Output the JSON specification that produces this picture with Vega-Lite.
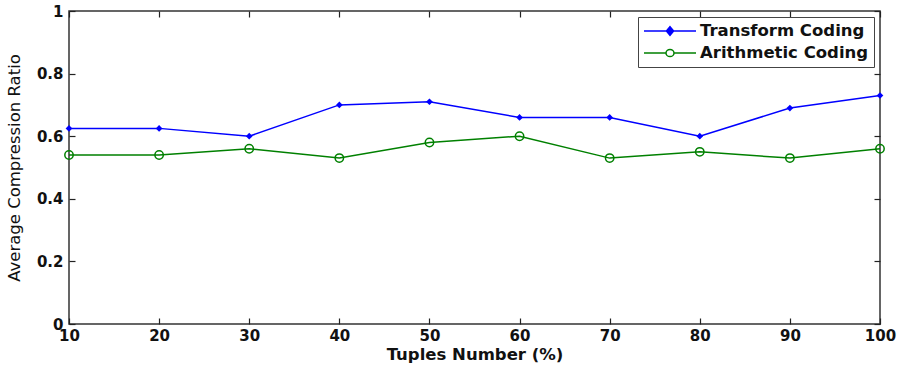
{
  "$schema": "https://vega.github.io/schema/vega-lite/v6.json",
  "width": 811,
  "height": 313,
  "autosize": {"type": "none"},
  "padding": {"left": 69, "top": 11, "right": 22, "bottom": 42},
  "background": "white",
  "data": {
    "values": [
      {"tuples": 10, "series": "Transform Coding", "ratio": 0.625},
      {"tuples": 20, "series": "Transform Coding", "ratio": 0.625},
      {"tuples": 30, "series": "Transform Coding", "ratio": 0.60},
      {"tuples": 40, "series": "Transform Coding", "ratio": 0.70},
      {"tuples": 50, "series": "Transform Coding", "ratio": 0.71},
      {"tuples": 60, "series": "Transform Coding", "ratio": 0.66},
      {"tuples": 70, "series": "Transform Coding", "ratio": 0.66},
      {"tuples": 80, "series": "Transform Coding", "ratio": 0.60},
      {"tuples": 90, "series": "Transform Coding", "ratio": 0.69},
      {"tuples": 100, "series": "Transform Coding", "ratio": 0.73},
      {"tuples": 10, "series": "Arithmetic Coding", "ratio": 0.54},
      {"tuples": 20, "series": "Arithmetic Coding", "ratio": 0.54},
      {"tuples": 30, "series": "Arithmetic Coding", "ratio": 0.56},
      {"tuples": 40, "series": "Arithmetic Coding", "ratio": 0.53},
      {"tuples": 50, "series": "Arithmetic Coding", "ratio": 0.58},
      {"tuples": 60, "series": "Arithmetic Coding", "ratio": 0.60},
      {"tuples": 70, "series": "Arithmetic Coding", "ratio": 0.53},
      {"tuples": 80, "series": "Arithmetic Coding", "ratio": 0.55},
      {"tuples": 90, "series": "Arithmetic Coding", "ratio": 0.53},
      {"tuples": 100, "series": "Arithmetic Coding", "ratio": 0.56}
    ]
  },
  "layer": [
    {
      "transform": [{"filter": "datum.series == 'Transform Coding'"}],
      "mark": {
        "type": "line", "strokeWidth": 1.5, "color": "#0000ff",
        "point": {"shape": "diamond", "filled": true, "color": "#0000ff", "size": 45}
      },
      "encoding": {
        "x": {
          "field": "tuples", "type": "quantitative",
          "scale": {"domain": [10, 100], "nice": false, "zero": false},
          "axis": {
            "orient": "bottom", "values": [10, 20, 30, 40, 50, 60, 70, 80, 90, 100],
            "title": "Tuples Number (%)", "titleFontSize": 16.5, "titleFontWeight": "bold",
            "titlePadding": 3, "labelPadding": 10
          }
        },
        "y": {
          "field": "ratio", "type": "quantitative",
          "scale": {"domain": [0, 1], "nice": false},
          "axis": {
            "orient": "left", "values": [0, 0.2, 0.4, 0.6, 0.8, 1], "format": "~g",
            "title": "Average Compression Ratio", "titleFontSize": 16.5, "titleFontWeight": "normal",
            "titlePadding": 14, "labelPadding": 12
          }
        }
      }
    },
    {
      "transform": [{"filter": "datum.series == 'Arithmetic Coding'"}],
      "mark": {
        "type": "line", "strokeWidth": 1.5, "color": "#008000",
        "point": {"shape": "circle", "filled": false, "color": "#008000", "size": 70, "strokeWidth": 1.5}
      },
      "encoding": {
        "x": {
          "field": "tuples", "type": "quantitative",
          "axis": {"orient": "top", "values": [10, 20, 30, 40, 50, 60, 70, 80, 90, 100], "labels": false, "title": null}
        },
        "y": {
          "field": "ratio", "type": "quantitative",
          "axis": {"orient": "right", "values": [0, 0.2, 0.4, 0.6, 0.8, 1], "labels": false, "title": null}
        }
      }
    },
    {
      "mark": {"type": "point", "filled": false, "size": 0, "strokeWidth": 1.5, "opacity": 1},
      "encoding": {
        "x": {"field": "tuples", "type": "quantitative", "axis": null},
        "y": {"field": "ratio", "type": "quantitative", "axis": null},
        "color": {
          "field": "series", "type": "nominal", "title": null,
          "scale": {"domain": ["Transform Coding", "Arithmetic Coding"], "range": ["#0000ff", "#008000"]},
          "legend": {
            "orient": "top-right",
            "offset": 6,
            "direction": "vertical",
            "strokeColor": "#444",
            "fillColor": "white",
            "padding": 5,
            "symbolSize": 256,
            "symbolStrokeWidth": 1.5,
            "rowPadding": 4,
            "labelFont": "DejaVu Sans",
            "labelFontSize": 16.5,
            "labelFontWeight": "bold",
            "labelColor": "#111",
            "labelLimit": 400,
            "labelOffset": 39
          }
        },
        "shape": {
          "field": "series", "type": "nominal", "title": null,
          "scale": {
            "domain": ["Transform Coding", "Arithmetic Coding"],
            "range": [
              "M-2.5,0M-1,0H5.5M2.25,-0.55L2.7,0L2.25,0.55L1.8,0Z",
              "M-2.5,0M-1,0H1.75M2.75,0H5.5M1.75,0A0.5,0.45 0 1,0 2.75,0A0.5,0.45 0 1,0 1.75,0Z"
            ]
          }
        },
        "fill": {
          "field": "series", "type": "nominal", "title": null,
          "scale": {"domain": ["Transform Coding", "Arithmetic Coding"], "range": ["#0000ff", "transparent"]}
        }
      }
    }
  ],
  "resolve": {
    "axis": {"x": "independent", "y": "independent"}
  },
  "config": {
    "font": "DejaVu Sans",
    "view": {"stroke": "#333", "strokeWidth": 1.5},
    "axis": {
      "grid": false,
      "domain": false,
      "tickSize": -6,
      "tickColor": "#222",
      "tickWidth": 1.2,
      "labelFlush": false,
      "labelFont": "DejaVu Sans",
      "labelFontSize": 15,
      "labelFontWeight": "bold",
      "labelColor": "#111",
      "titleFont": "DejaVu Sans",
      "titleColor": "#111"
    }
  }
}
